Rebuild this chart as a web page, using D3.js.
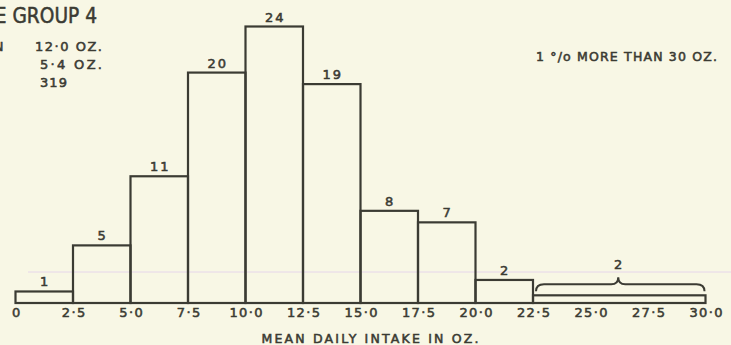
<!DOCTYPE html>
<html>
<head>
<meta charset="utf-8">
<script src="https://cdn.jsdelivr.net/npm/d3@7"></script>
<style>
  html, body { margin: 0; padding: 0; background: #f8f7e5; overflow: hidden; }
  svg { display: block; }
  text { font-family: "DejaVu Sans", Verdana, sans-serif; fill: #3b3b33; stroke: #3b3b33; stroke-width: 0.55px; }
</style>
</head>
<body>
<svg id="chart" width="731" height="345"></svg>
<script>
// ---- data ----
const binStarts = [0, 2.5, 5, 7.5, 10, 12.5, 15, 17.5, 20, 22.5];
const binEnds   = [2.5, 5, 7.5, 10, 12.5, 15, 17.5, 20, 22.5, 30];
const percents  = [1, 5, 11, 20, 24, 19, 8, 7, 2, 2];
const tickValues = [0, 2.5, 5, 7.5, 10, 12.5, 15, 17.5, 20, 22.5, 25, 27.5, 30];
const tickLabels = ["0", "2·5", "5·0", "7·5", "10·0", "12·5", "15·0", "17·5", "20·0", "22·5", "25·0", "27·5", "30·0"];
const titleText = "AGE GROUP 4";
const statLabels = ["MEAN", "S.D.", "NO."];
const statValues = ["12·0 OZ.", "5·4 OZ.", "319"];
const noteText = "1 °/o MORE THAN 30 OZ.";
const axisTitle = "MEAN DAILY INTAKE IN OZ.";

const ink = "#3b3b33";
const svg = d3.select("#chart");

const x = d3.scaleLinear().domain([0, 30]).range([15.5, 705.5]);
const y = d3.scaleLinear().domain([0, 24]).range([303, 26.5]);

// faint scan line
svg.append("line")
  .attr("x1", 28).attr("x2", 731)
  .attr("y1", 272).attr("y2", 272)
  .attr("stroke", "#e6d6ea").attr("stroke-width", 1);

const bins = binStarts.map((s, i) => ({
  start: s, end: binEnds[i], pct: percents[i],
  h: percents[i] * 2.5 / (binEnds[i] - s)
}));

// bars
svg.append("g").selectAll("rect").data(bins).join("rect")
  .attr("x", d => x(d.start))
  .attr("y", d => y(d.h))
  .attr("width", d => x(d.end) - x(d.start))
  .attr("height", d => y(0) - y(d.h))
  .attr("fill", "none")
  .attr("stroke", ink)
  .attr("stroke-width", 2.2);

// bar labels (regular bins)
const regular = bins.filter(d => d.end - d.start === 2.5);
svg.append("g").selectAll("text").data(regular).join("text")
  .attr("x", d => x((d.start + d.end) / 2) + 1)
  .attr("y", d => y(d.h) - 5)
  .attr("text-anchor", "middle")
  .attr("font-size", 13)
  .attr("letter-spacing", 2)
  .text(d => d.pct);

// brace over the wide bin
const wide = bins.filter(d => d.end - d.start > 2.5);
wide.forEach(d => {
  const x0 = x(d.start) + 3, x1 = x(d.end) - 1;
  const xm = x((d.start + d.end) / 2) - 1;
  const top = y(d.h);
  const yEnd = top - 4, yMid = top - 11, yPeak = top - 18;
  const p = d3.path();
  p.moveTo(x0, yEnd);
  p.quadraticCurveTo(x0, yMid, x0 + 8, yMid);
  p.lineTo(xm - 7, yMid);
  p.quadraticCurveTo(xm, yMid, xm, yPeak);
  p.quadraticCurveTo(xm, yMid, xm + 7, yMid);
  p.lineTo(x1 - 8, yMid);
  p.quadraticCurveTo(x1, yMid, x1, yEnd);
  svg.append("path").attr("d", p.toString())
    .attr("fill", "none").attr("stroke", ink).attr("stroke-width", 2);
  svg.append("text")
    .attr("x", xm).attr("y", yPeak - 8)
    .attr("text-anchor", "middle")
    .attr("font-size", 13)
    .text(d.pct);
});

// x axis tick labels
const axis = d3.axisBottom(x).tickValues(tickValues)
  .tickFormat((v, i) => tickLabels[i]).tickSize(0).tickPadding(0);
const gx = svg.append("g").attr("transform", "translate(0,303)").call(axis);
gx.select(".domain").remove();
gx.selectAll("text")
  .attr("y", 13.5)
  .attr("dy", 0)
  .attr("dx", 0.7)
  .attr("font-size", 13)
  .attr("letter-spacing", 1.4)
  .style("font-family", "'DejaVu Sans', sans-serif")
  .attr("fill", ink);

// axis title
svg.append("text")
  .attr("x", 370).attr("y", 343)
  .attr("text-anchor", "middle")
  .attr("font-size", 12.5)
  .attr("textLength", 217).attr("lengthAdjust", "spacing")
  .text(axisTitle);

// title (cut at left edge as in the original)
svg.append("text")
  .attr("x", 97).attr("y", 23)
  .attr("text-anchor", "end")
  .attr("font-size", 21)
  .attr("textLength", 129).attr("lengthAdjust", "spacingAndGlyphs")
  .text(titleText);

// stats block
const statY = [51, 69, 87];
const statX = [35, 40, 40];
const statW = [67, 62, 27];
statLabels.forEach((t, i) => {
  if (i === 0) {
    svg.append("text").attr("x", 3.5).attr("y", statY[i])
      .attr("text-anchor", "end").attr("font-size", 13).text(t);
  }
});
statValues.forEach((t, i) => {
  svg.append("text").attr("x", statX[i]).attr("y", statY[i])
    .attr("font-size", 13)
    .attr("textLength", statW[i]).attr("lengthAdjust", "spacing")
    .text(t);
});

// note
svg.append("text")
  .attr("x", 536).attr("y", 61)
  .attr("font-size", 12.5)
  .attr("textLength", 181).attr("lengthAdjust", "spacing")
  .text(noteText);
</script>
</body>
</html>
